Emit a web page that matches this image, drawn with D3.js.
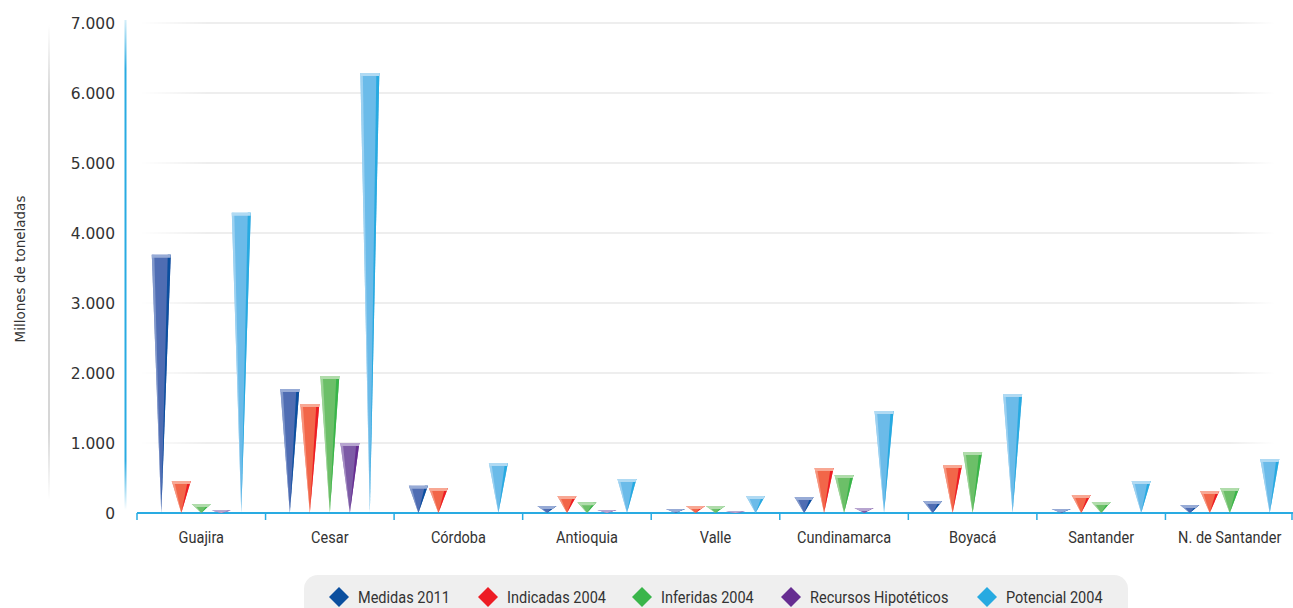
<!DOCTYPE html>
<html><head><meta charset="utf-8">
<script src="https://cdn.jsdelivr.net/npm/d3@7"></script>
<style>html,body{margin:0;padding:0;background:#fff;} svg{display:block;}</style>
</head><body>
<script>
const categories = ["Guajira","Cesar","Córdoba","Antioquia","Valle","Cundinamarca","Boyacá","Santander","N. de Santander"];
const seriesNames = ["Medidas 2011","Indicadas 2004","Inferidas 2004","Recursos Hipotéticos","Potencial 2004"];
const medidas2011   = [3690, 1770, 390, 100, 57, 229, 171, 57, 114];
const indicadas2004 = [457, 1557, 357, 243, 100, 643, 686, 257, 314];
const inferidas2004 = [130, 1957, 0, 153, 100, 543, 871, 157, 357];
const hipoteticos   = [35, 1000, 0, 43, 20, 71, 0, 0, 0];
const potencial2004 = [4290, 6285, 714, 486, 243, 1457, 1700, 457, 771];
const yTicks = [0,1000,2000,3000,4000,5000,6000,7000];

const seriesValues = [medidas2011, indicadas2004, inferidas2004, hipoteticos, potencial2004];
const styles = [
  {main:"#4f6db3", dark:"#0b4f9f", cap:"#97abd6", key:"#0b4f9f"},
  {main:"#f26649", dark:"#ed1c24", cap:"#f8a894", key:"#ed1c24"},
  {main:"#6cbf68", dark:"#39b54a", cap:"#b0dcab", key:"#39b54a"},
  {main:"#7d5ba6", dark:"#662d91", cap:"#b7a5d0", key:"#662d91"},
  {main:"#6bbbe9", dark:"#27aae1", cap:"#b0daf3", key:"#27aae1"}
];

const W = 1293, H = 608;
const svg = d3.select("body").append("svg").attr("width", W).attr("height", H);
const defs = svg.append("defs");

const x0 = d3.scaleBand().domain(categories).range([137, 1294]).paddingInner(0).paddingOuter(0);
const x1 = d3.scaleBand().domain(seriesNames).range([-50, 50]).padding(0);
const y = d3.scaleLinear().domain([0, 7000]).range([513, 23]);
const fmt = d3.formatLocale({decimal:",", thousands:".", grouping:[3], currency:["",""]}).format(",");

// gradients
const gGray = defs.append("linearGradient").attr("id","gGray").attr("x1",0).attr("y1",0).attr("x2",0).attr("y2",1);
gGray.append("stop").attr("offset","0%").attr("stop-color","#d6d6d6").attr("stop-opacity",0);
gGray.append("stop").attr("offset","15%").attr("stop-color","#d6d6d6").attr("stop-opacity",1);
gGray.append("stop").attr("offset","85%").attr("stop-color","#d6d6d6").attr("stop-opacity",1);
gGray.append("stop").attr("offset","100%").attr("stop-color","#d6d6d6").attr("stop-opacity",0);
const gBlue = defs.append("linearGradient").attr("id","gBlue").attr("x1",0).attr("y1",0).attr("x2",0).attr("y2",1);
gBlue.append("stop").attr("offset","0%").attr("stop-color","#29abe2").attr("stop-opacity",0.2);
gBlue.append("stop").attr("offset","10%").attr("stop-color","#29abe2").attr("stop-opacity",1);
gBlue.append("stop").attr("offset","90%").attr("stop-color","#29abe2").attr("stop-opacity",1);
gBlue.append("stop").attr("offset","100%").attr("stop-color","#29abe2").attr("stop-opacity",0);
const gGrid = defs.append("linearGradient").attr("id","gGrid").attr("x1",0).attr("y1",0).attr("x2",1).attr("y2",0);
gGrid.append("stop").attr("offset","0%").attr("stop-color","#ddd").attr("stop-opacity",0);
gGrid.append("stop").attr("offset","6%").attr("stop-color","#ddd").attr("stop-opacity",1);
gGrid.append("stop").attr("offset","96%").attr("stop-color","#ddd").attr("stop-opacity",1);
gGrid.append("stop").attr("offset","100%").attr("stop-color","#ddd").attr("stop-opacity",0);

// decorative vertical lines
svg.append("rect").attr("x",48).attr("y",25).attr("width",2).attr("height",475).attr("fill","url(#gGray)");
svg.append("rect").attr("x",124.5).attr("y",20).attr("width",2).attr("height",490).attr("fill","url(#gBlue)");

// gridlines
svg.append("g").selectAll("rect").data(yTicks.filter(d=>d>0)).join("rect")
  .attr("x",140).attr("width",1135).attr("y",d=>y(d)-0.5).attr("height",1).attr("fill","url(#gGrid)");

// y tick labels
svg.append("g").selectAll("text").data(yTicks).join("text")
  .attr("x",115).attr("y",d=>y(d)).attr("dy","0.36em").attr("text-anchor","end")
  .style("font-family","'DejaVu Sans', sans-serif").style("font-size","15.5px").attr("fill","#333")
  .text(d=>fmt(d));

// y axis title
svg.append("text").attr("transform","translate(25,269) rotate(-90)").attr("text-anchor","middle")
  .style("font-family","'DejaVu Sans', sans-serif").style("font-size","13.5px").attr("fill","#333")
  .text("Millones de toneladas");

// x axis
const xAxisG = svg.append("g").attr("transform","translate(0,513)");
xAxisG.append("line").attr("x1",137).attr("x2",1293).attr("y1",0).attr("y2",0).attr("stroke","#29abe2").attr("stroke-width",2);
const bounds = categories.map(c=>x0(c)).concat([x0.range()[1]]);
xAxisG.selectAll("line.tk").data(bounds).join("line").attr("class","tk")
  .attr("x1",d=>Math.min(d,1292)).attr("x2",d=>Math.min(d,1292)).attr("y1",0).attr("y2",7)
  .attr("stroke","#29abe2").attr("stroke-width",1.5);
xAxisG.selectAll("text").data(categories).join("text")
  .attr("transform",d=>`translate(${x0(d)+x0.bandwidth()/2},30) scale(0.88,1)`).attr("text-anchor","middle")
  .style("font-family","Roboto, sans-serif").style("font-size","16.5px").attr("fill","#333")
  .text(d=>d);

// bars
const hw = 9.5;
const barG = svg.append("g");
seriesNames.forEach((s, si) => {
  const st = styles[si];
  const vals = seriesValues[si];
  categories.forEach((c, ci) => {
    const v = vals[ci];
    if (!v) return;
    const cx = x0(c) + x0.bandwidth()/2 + x1(s) + x1.bandwidth()/2;
    const yt = y(v), yb = y(0);
    const h = yb - yt;
    const g = barG.append("g");
    g.append("polygon").attr("points", [[cx-hw,yt],[cx+hw,yt],[cx,yb]].join(" ")).attr("fill", st.main);
    g.append("polygon").attr("points", [[cx+hw-3,yt],[cx+hw,yt],[cx,yb]].join(" ")).attr("fill", st.dark);
    g.append("polygon").attr("points", [[cx-hw,yt],[cx-hw+2.5,yt],[cx,yb]].join(" ")).attr("fill", st.cap).attr("opacity",0.7);
    const ch = Math.min(3, h);
    const f = 1 - ch / h;
    g.append("polygon").attr("points", [[cx-hw,yt],[cx+hw,yt],[cx+hw*f,yt+ch],[cx-hw*f,yt+ch]].join(" ")).attr("fill", st.cap);
  });
});

// legend
const lg = svg.append("g");
lg.append("rect").attr("x",304).attr("y",575).attr("width",824).attr("height",60).attr("rx",14).attr("fill","#efefef");
const legX = [339, 488, 642, 791, 987];
seriesNames.forEach((s, i) => {
  const cx = legX[i], cy = 597;
  lg.append("polygon").attr("points", [[cx,cy-10],[cx+10,cy],[cx,cy+10],[cx-10,cy]].join(" ")).attr("fill", styles[i].key);
  lg.append("text").attr("transform",`translate(${cx+19},${cy+6}) scale(0.88,1)`)
    .style("font-family","Roboto, sans-serif").style("font-size","16.5px").attr("fill","#333").text(s);
});
</script>
</body></html>
